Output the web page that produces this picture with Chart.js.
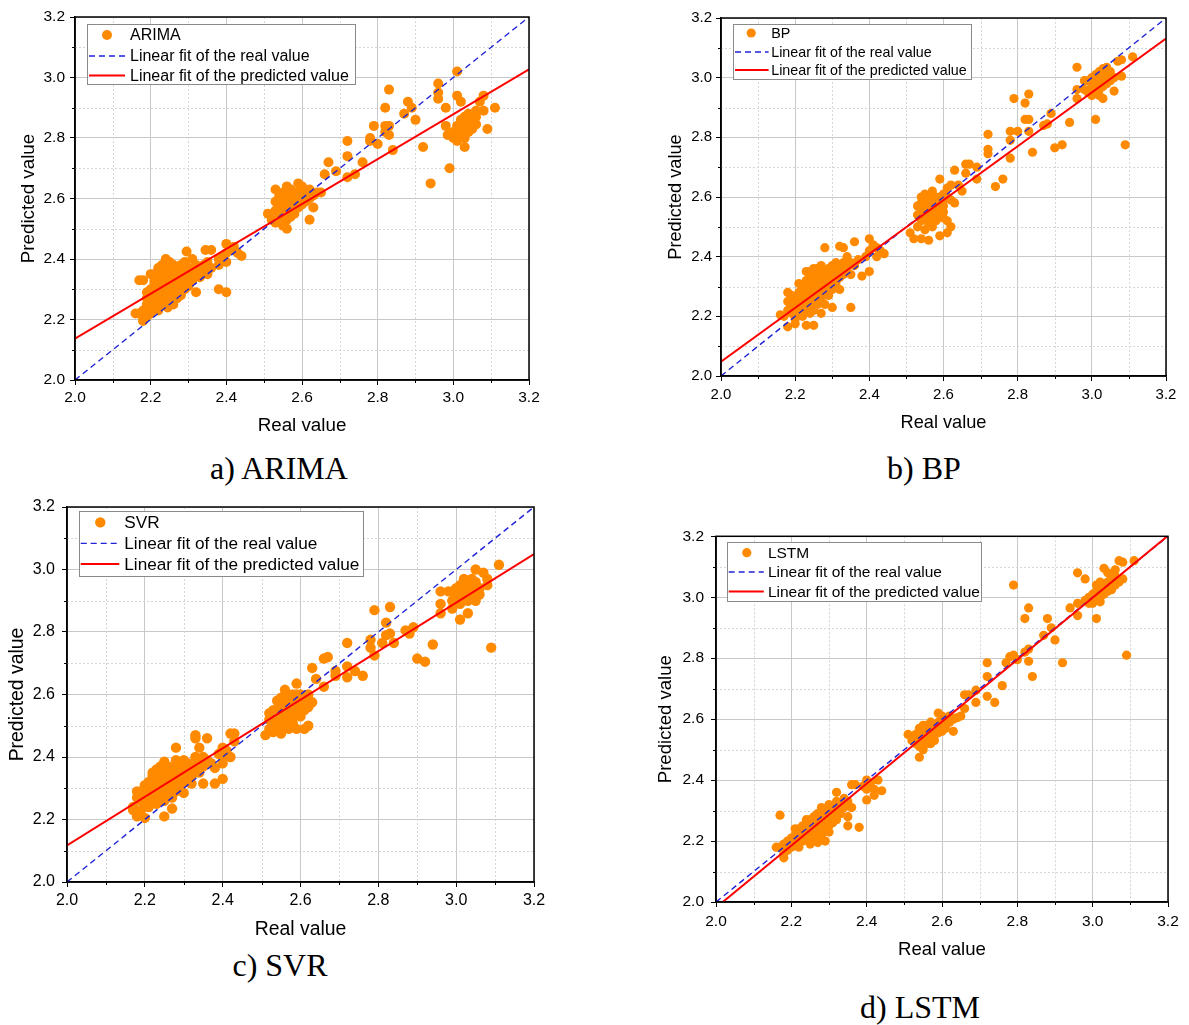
<!DOCTYPE html>
<html>
<head>
<meta charset="utf-8">
<script src="https://cdn.jsdelivr.net/npm/chart.js@4.4.1/dist/chart.umd.min.js"></script>
<style>
  body { margin: 0; background: #fff; width: 1189px; height: 1025px; position: relative; overflow: hidden; }
  .panel { position: absolute; }
  .caption { position: absolute; font-family: 'Times New Roman', 'Liberation Serif', serif; font-size: 32px; color: #000;
             transform: translate(-50%, -50%); white-space: nowrap; }
</style>
</head>
<body>
<div class="panel"><canvas id="ca"></canvas></div>
<div class="panel"><canvas id="cb"></canvas></div>
<div class="panel"><canvas id="cc"></canvas></div>
<div class="panel"><canvas id="cd"></canvas></div>
<div class="caption" style="left:279px;top:468px">a) ARIMA</div>
<div class="caption" style="left:924px;top:468px">b) BP</div>
<div class="caption" style="left:280px;top:965px">c) SVR</div>
<div class="caption" style="left:920px;top:1007px">d) LSTM</div>

<script>
// axis setup
const axisMin = 2.0, axisMax = 3.2;
const majorStep = 0.2;
const minorTicks = [2.1, 2.3, 2.5, 2.7, 2.9, 3.1];
const xTitle = 'Real value';
const yTitle = 'Predicted value';
const legendReal = 'Linear fit of the real value';
const legendPred = 'Linear fit of the predicted value';
const models = ['ARIMA', 'BP', 'SVR', 'LSTM'];

// [real, predicted] pairs
const arimaPoints = [
  [2.16,2.22],[2.17,2.33],[2.18,2.33],[2.18,2.195],[2.17,2.22],[2.18,2.20],[2.18,2.23],[2.19,2.21],[2.19,2.25],[2.19,2.29],
  [2.20,2.22],[2.20,2.26],[2.20,2.30],[2.20,2.35],[2.21,2.24],[2.21,2.28],[2.21,2.32],[2.21,2.35],[2.22,2.23],[2.22,2.27],
  [2.22,2.30],[2.22,2.33],[2.22,2.37],[2.23,2.25],[2.23,2.29],[2.23,2.32],[2.23,2.35],[2.23,2.38],[2.24,2.26],[2.24,2.28],
  [2.24,2.31],[2.24,2.34],[2.24,2.36],[2.24,2.40],[2.245,2.24],[2.25,2.27],[2.25,2.30],[2.25,2.33],[2.25,2.37],[2.25,2.39],
  [2.26,2.25],[2.26,2.29],[2.26,2.32],[2.26,2.35],[2.26,2.38],[2.27,2.27],[2.27,2.30],[2.27,2.34],[2.27,2.37],[2.28,2.28],
  [2.28,2.31],[2.28,2.35],[2.28,2.38],[2.29,2.30],[2.29,2.33],[2.29,2.36],[2.29,2.39],[2.295,2.425],[2.30,2.31],[2.30,2.34],
  [2.30,2.37],[2.31,2.33],[2.31,2.36],[2.31,2.40],[2.32,2.29],[2.32,2.35],[2.32,2.38],[2.33,2.34],[2.33,2.37],[2.34,2.36],
  [2.34,2.38],[2.345,2.43],[2.35,2.35],[2.35,2.39],[2.36,2.37],[2.36,2.43],[2.38,2.30],[2.38,2.38],[2.38,2.40],[2.39,2.41],
  [2.40,2.29],[2.40,2.39],[2.40,2.42],[2.40,2.45],[2.41,2.43],[2.42,2.44],[2.43,2.42],[2.44,2.41],
  [2.19,2.23],[2.20,2.24],[2.20,2.28],[2.21,2.26],[2.21,2.30],[2.22,2.25],[2.22,2.29],[2.22,2.32],[2.23,2.27],[2.23,2.30],
  [2.23,2.33],[2.24,2.29],[2.24,2.33],[2.25,2.28],[2.25,2.31],[2.25,2.35],[2.26,2.27],[2.26,2.31],[2.26,2.34],[2.27,2.29],
  [2.27,2.32],[2.27,2.36],[2.28,2.30],[2.28,2.33],[2.28,2.36],[2.29,2.32],[2.29,2.35],[2.30,2.33],[2.30,2.36],[2.31,2.35],
  [2.32,2.36],[2.24,2.38],[2.21,2.33],[2.19,2.27],
  [2.51,2.55],[2.52,2.53],[2.53,2.52],[2.53,2.56],[2.53,2.59],[2.53,2.63],[2.54,2.54],[2.54,2.57],[2.54,2.61],[2.55,2.51],
  [2.55,2.55],[2.55,2.58],[2.55,2.62],[2.56,2.50],[2.56,2.53],[2.56,2.57],[2.56,2.60],[2.56,2.64],[2.57,2.54],[2.57,2.58],
  [2.57,2.61],[2.57,2.63],[2.58,2.55],[2.58,2.59],[2.58,2.62],[2.59,2.57],[2.59,2.60],[2.59,2.65],[2.60,2.58],[2.60,2.61],
  [2.60,2.64],[2.61,2.59],[2.61,2.62],[2.62,2.53],[2.62,2.60],[2.62,2.63],[2.63,2.57],[2.63,2.61],[2.64,2.62],[2.65,2.62],
  [2.54,2.59],[2.55,2.57],[2.56,2.55],[2.57,2.56],[2.57,2.60],[2.58,2.57],[2.58,2.61],[2.59,2.59],[2.59,2.62],[2.60,2.60],
  [2.61,2.60],[2.60,2.63],
  [2.66,2.68],[2.67,2.72],[2.69,2.69],[2.72,2.67],[2.72,2.74],[2.72,2.79],[2.74,2.68],[2.76,2.72],[2.78,2.79],[2.78,2.80],
  [2.79,2.84],[2.80,2.78],[2.82,2.82],[2.82,2.84],[2.82,2.90],[2.83,2.81],[2.83,2.84],[2.83,2.96],[2.84,2.76],[2.87,2.88],
  [2.88,2.92],[2.89,2.90],[2.90,2.86],[2.92,2.77],[2.94,2.65],[2.96,2.93],[2.96,2.95],[2.96,2.98],[2.98,2.84],[2.98,2.90],
  [2.985,2.81],[2.99,2.70],[2.995,2.81],[3.00,2.80],[3.01,2.79],[3.01,2.94],[3.01,3.02],[3.013,2.82],[3.02,2.83],[3.02,2.92],
  [3.027,2.84],[3.03,2.77],[3.036,2.85],[3.04,2.86],[3.05,2.86],[3.05,2.83],[3.06,2.845],[3.06,2.89],[3.07,2.92],[3.08,2.89],
  [3.08,2.94],[3.09,2.83],[3.11,2.90],[3.03,2.80],[3.04,2.82],
  [3.00,2.82],[3.01,2.84],[3.02,2.81],[3.02,2.86],[3.03,2.83],[3.04,2.84],[3.05,2.85],[3.03,2.87],[3.04,2.88],[3.06,2.87]
];
const bpPoints = [
  [2.16,2.205],[2.17,2.20],[2.18,2.165],[2.18,2.22],[2.18,2.25],[2.18,2.28],[2.19,2.21],[2.19,2.24],[2.19,2.27],[2.20,2.175],
  [2.20,2.19],[2.20,2.23],[2.20,2.26],[2.21,2.22],[2.21,2.25],[2.21,2.28],[2.21,2.31],[2.22,2.20],[2.22,2.24],[2.22,2.27],
  [2.22,2.30],[2.23,2.17],[2.23,2.22],[2.23,2.26],[2.23,2.29],[2.23,2.32],[2.23,2.35],[2.24,2.21],[2.24,2.24],[2.24,2.27],
  [2.24,2.30],[2.24,2.33],[2.25,2.17],[2.25,2.22],[2.25,2.26],[2.25,2.29],[2.25,2.32],[2.25,2.36],[2.26,2.24],[2.26,2.28],
  [2.26,2.31],[2.26,2.34],[2.27,2.21],[2.27,2.26],[2.27,2.30],[2.27,2.33],[2.27,2.37],[2.28,2.24],[2.28,2.28],[2.28,2.32],
  [2.28,2.35],[2.28,2.43],[2.29,2.27],[2.29,2.30],[2.29,2.34],[2.30,2.23],[2.30,2.29],[2.30,2.33],[2.30,2.37],[2.31,2.31],
  [2.31,2.35],[2.31,2.38],[2.32,2.29],[2.32,2.33],[2.32,2.36],[2.32,2.435],[2.33,2.34],[2.33,2.38],[2.33,2.43],[2.34,2.36],
  [2.34,2.40],[2.35,2.23],[2.35,2.34],[2.35,2.38],[2.36,2.37],[2.36,2.45],[2.37,2.39],[2.38,2.335],[2.39,2.40],[2.40,2.35],
  [2.40,2.42],[2.40,2.46],[2.41,2.44],[2.42,2.43],[2.42,2.40],[2.43,2.42],[2.44,2.41],
  [2.19,2.25],[2.20,2.21],[2.20,2.25],[2.21,2.24],[2.21,2.27],[2.22,2.26],[2.22,2.29],[2.23,2.24],[2.23,2.28],[2.23,2.31],
  [2.24,2.26],[2.24,2.29],[2.24,2.32],[2.25,2.28],[2.25,2.31],[2.25,2.34],[2.26,2.26],[2.26,2.30],[2.26,2.33],[2.27,2.28],
  [2.27,2.32],[2.27,2.35],[2.28,2.30],[2.28,2.34],[2.29,2.32],[2.29,2.36],[2.30,2.31],[2.30,2.35],[2.31,2.33],[2.32,2.35],
  [2.26,2.36],[2.24,2.35],
  [2.51,2.48],[2.52,2.46],[2.53,2.50],[2.53,2.54],[2.53,2.57],[2.54,2.46],[2.54,2.52],[2.54,2.56],[2.54,2.60],[2.55,2.49],
  [2.55,2.53],[2.55,2.57],[2.55,2.61],[2.56,2.455],[2.56,2.51],[2.56,2.55],[2.56,2.58],[2.57,2.50],[2.57,2.54],[2.57,2.59],
  [2.57,2.62],[2.58,2.52],[2.58,2.56],[2.58,2.60],[2.59,2.47],[2.59,2.55],[2.59,2.58],[2.59,2.66],[2.60,2.53],[2.60,2.57],
  [2.60,2.61],[2.61,2.48],[2.61,2.52],[2.61,2.60],[2.61,2.63],[2.62,2.50],[2.62,2.59],[2.62,2.64],[2.63,2.58],[2.63,2.69],
  [2.64,2.64],[2.65,2.62],
  [2.54,2.54],[2.55,2.55],[2.55,2.59],[2.56,2.53],[2.56,2.57],[2.57,2.56],[2.57,2.58],[2.58,2.54],[2.58,2.58],[2.59,2.57],
  [2.59,2.60],[2.60,2.55],[2.60,2.59],[2.56,2.60],[2.54,2.58],
  [2.66,2.68],[2.66,2.71],[2.67,2.71],[2.69,2.66],[2.69,2.70],[2.72,2.745],[2.72,2.76],[2.72,2.81],[2.74,2.635],[2.76,2.66],
  [2.78,2.73],[2.78,2.79],[2.78,2.82],[2.79,2.93],[2.80,2.82],[2.82,2.86],[2.82,2.915],[2.83,2.82],[2.83,2.86],[2.83,2.945],
  [2.84,2.75],[2.87,2.84],[2.88,2.845],[2.89,2.88],[2.90,2.765],[2.92,2.775],[2.94,2.85],[2.96,2.93],[2.96,2.96],[2.96,3.035],
  [2.98,2.96],[2.98,2.99],[2.99,2.95],[2.99,2.99],[3.00,2.94],[3.00,2.97],[3.00,3.00],[3.01,2.86],[3.01,2.95],[3.01,2.98],
  [3.01,3.01],[3.02,2.94],[3.02,2.96],[3.02,2.99],[3.02,3.02],[3.03,2.93],[3.03,2.97],[3.03,3.00],[3.03,3.03],[3.04,2.98],
  [3.04,3.01],[3.04,3.035],[3.05,2.99],[3.05,3.02],[3.06,2.955],[3.06,3.00],[3.07,3.055],[3.08,3.005],[3.08,3.06],[3.09,2.775],
  [3.11,3.07],
  [3.00,2.99],[3.01,2.97],[3.02,3.00],[3.03,2.99],[3.04,3.00],[3.05,3.00],[3.01,3.00]
];
const svrPoints = [
  [2.17,2.23],[2.17,2.24],[2.18,2.21],[2.18,2.22],[2.18,2.27],[2.18,2.29],[2.19,2.23],[2.19,2.26],[2.19,2.29],[2.20,2.205],
  [2.20,2.25],[2.20,2.28],[2.20,2.31],[2.21,2.24],[2.21,2.27],[2.21,2.30],[2.22,2.26],[2.22,2.29],[2.22,2.32],[2.22,2.35],
  [2.23,2.25],[2.23,2.28],[2.23,2.31],[2.23,2.34],[2.24,2.27],[2.24,2.30],[2.24,2.33],[2.24,2.37],[2.25,2.21],[2.25,2.26],
  [2.25,2.29],[2.25,2.32],[2.25,2.35],[2.25,2.385],[2.26,2.28],[2.26,2.31],[2.26,2.34],[2.26,2.37],[2.27,2.235],[2.27,2.27],
  [2.27,2.30],[2.27,2.33],[2.27,2.36],[2.28,2.29],[2.28,2.32],[2.28,2.35],[2.28,2.39],[2.28,2.43],[2.29,2.31],[2.29,2.34],
  [2.29,2.37],[2.30,2.285],[2.30,2.33],[2.30,2.36],[2.30,2.39],[2.31,2.32],[2.31,2.35],[2.31,2.38],[2.32,2.315],[2.32,2.34],
  [2.32,2.37],[2.33,2.36],[2.33,2.40],[2.33,2.46],[2.33,2.47],[2.34,2.35],[2.34,2.38],[2.34,2.43],[2.35,2.315],[2.35,2.37],
  [2.35,2.40],[2.36,2.39],[2.36,2.46],[2.37,2.38],[2.38,2.315],[2.38,2.365],[2.39,2.41],[2.40,2.33],[2.40,2.38],[2.40,2.40],
  [2.40,2.43],[2.41,2.42],[2.42,2.40],[2.42,2.475],[2.43,2.475],[2.43,2.45],
  [2.19,2.28],[2.20,2.27],[2.20,2.30],[2.21,2.29],[2.21,2.32],[2.22,2.28],[2.22,2.31],[2.23,2.30],[2.23,2.33],[2.23,2.36],
  [2.24,2.29],[2.24,2.32],[2.24,2.35],[2.25,2.31],[2.25,2.34],[2.26,2.30],[2.26,2.33],[2.26,2.36],[2.27,2.32],[2.27,2.35],
  [2.28,2.31],[2.28,2.34],[2.28,2.37],[2.29,2.33],[2.29,2.36],[2.30,2.35],[2.30,2.38],[2.31,2.37],[2.32,2.36],[2.22,2.34],
  [2.51,2.47],[2.52,2.49],[2.52,2.52],[2.52,2.54],[2.53,2.48],[2.53,2.51],[2.53,2.55],[2.54,2.50],[2.54,2.53],[2.54,2.58],
  [2.55,2.475],[2.55,2.52],[2.55,2.55],[2.55,2.59],[2.56,2.50],[2.56,2.54],[2.56,2.57],[2.56,2.615],[2.57,2.49],[2.57,2.52],
  [2.57,2.55],[2.57,2.58],[2.58,2.51],[2.58,2.53],[2.58,2.56],[2.58,2.60],[2.59,2.49],[2.59,2.55],[2.59,2.58],[2.59,2.635],
  [2.60,2.53],[2.60,2.57],[2.60,2.60],[2.61,2.49],[2.61,2.55],[2.61,2.59],[2.62,2.50],[2.62,2.56],[2.62,2.60],[2.63,2.575],
  [2.63,2.685],
  [2.54,2.55],[2.55,2.54],[2.55,2.57],[2.56,2.56],[2.56,2.59],[2.57,2.54],[2.57,2.57],[2.58,2.55],[2.58,2.58],[2.59,2.57],
  [2.59,2.60],[2.60,2.58],[2.53,2.53],[2.56,2.52],
  [2.64,2.65],[2.66,2.625],[2.66,2.715],[2.67,2.72],[2.69,2.66],[2.69,2.675],[2.72,2.655],[2.72,2.69],[2.72,2.765],[2.74,2.675],
  [2.76,2.66],[2.78,2.75],[2.78,2.775],[2.79,2.725],[2.79,2.87],[2.81,2.765],[2.82,2.79],[2.82,2.83],[2.83,2.795],[2.83,2.88],
  [2.84,2.765],[2.87,2.805],[2.88,2.795],[2.89,2.815],[2.90,2.715],[2.92,2.705],[2.94,2.76],[2.96,2.86],[2.96,2.89],[2.96,2.93],
  [2.98,2.93],[2.99,2.875],[2.99,2.90],[2.99,2.93],[3.00,2.91],[3.00,2.94],[3.01,2.84],[3.01,2.89],[3.01,2.92],[3.01,2.95],
  [3.02,2.91],[3.02,2.94],[3.02,2.96],[3.03,2.86],[3.03,2.90],[3.03,2.93],[3.03,2.96],[3.04,2.92],[3.04,2.95],[3.04,2.97],
  [3.05,2.90],[3.05,2.93],[3.05,2.96],[3.05,3.00],[3.06,2.92],[3.06,2.94],[3.07,2.99],[3.08,2.95],[3.08,2.97],[3.09,2.75],
  [3.11,3.015],
  [3.00,2.92],[3.02,2.93],[3.03,2.95],[3.04,2.94],[3.05,2.95],[3.02,2.97]
];
const lstmPoints = [
  [2.16,2.18],[2.17,2.285],[2.17,2.18],[2.18,2.145],[2.18,2.16],[2.18,2.19],[2.19,2.17],[2.19,2.20],[2.20,2.18],[2.20,2.21],
  [2.21,2.19],[2.21,2.22],[2.21,2.24],[2.22,2.18],[2.22,2.21],[2.22,2.23],[2.23,2.20],[2.23,2.22],[2.23,2.25],[2.24,2.21],
  [2.24,2.23],[2.24,2.26],[2.25,2.19],[2.25,2.22],[2.25,2.24],[2.25,2.27],[2.26,2.21],[2.26,2.23],[2.26,2.26],[2.26,2.28],
  [2.27,2.195],[2.27,2.24],[2.27,2.27],[2.27,2.29],[2.28,2.22],[2.28,2.25],[2.28,2.28],[2.28,2.31],[2.29,2.20],[2.29,2.24],
  [2.29,2.27],[2.29,2.30],[2.30,2.23],[2.30,2.26],[2.30,2.29],[2.30,2.32],[2.31,2.28],[2.31,2.31],[2.32,2.27],[2.32,2.30],
  [2.32,2.33],[2.32,2.36],[2.33,2.29],[2.33,2.32],[2.34,2.31],[2.34,2.34],[2.35,2.25],[2.35,2.28],[2.35,2.33],[2.36,2.31],
  [2.36,2.385],[2.37,2.385],[2.38,2.245],[2.39,2.38],[2.40,2.335],[2.40,2.37],[2.40,2.40],[2.41,2.39],[2.42,2.37],[2.42,2.35],
  [2.43,2.40],[2.44,2.365],
  [2.19,2.19],[2.20,2.20],[2.21,2.20],[2.21,2.21],[2.22,2.22],[2.22,2.24],[2.23,2.21],[2.23,2.24],[2.24,2.22],[2.24,2.25],
  [2.25,2.23],[2.25,2.26],[2.26,2.24],[2.26,2.27],[2.27,2.23],[2.27,2.26],[2.28,2.24],[2.28,2.27],[2.28,2.29],[2.29,2.26],
  [2.29,2.28],[2.30,2.25],[2.30,2.28],[2.31,2.26],[2.31,2.30],[2.32,2.29],[2.33,2.31],[2.25,2.25],[2.24,2.27],
  [2.51,2.55],[2.52,2.53],[2.53,2.52],[2.53,2.55],[2.54,2.475],[2.54,2.51],[2.54,2.54],[2.54,2.57],[2.55,2.50],[2.55,2.53],
  [2.55,2.56],[2.55,2.58],[2.56,2.52],[2.56,2.55],[2.56,2.58],[2.57,2.52],[2.57,2.56],[2.57,2.59],[2.58,2.53],[2.58,2.55],
  [2.58,2.58],[2.59,2.555],[2.59,2.59],[2.59,2.62],[2.60,2.56],[2.60,2.58],[2.60,2.61],[2.61,2.57],[2.61,2.60],[2.62,2.59],
  [2.62,2.61],[2.63,2.56],[2.63,2.60],[2.64,2.605],[2.65,2.61],
  [2.55,2.55],[2.56,2.54],[2.56,2.57],[2.57,2.55],[2.57,2.58],[2.58,2.56],[2.58,2.57],[2.59,2.58],[2.60,2.59],[2.61,2.59],
  [2.53,2.54],[2.54,2.53],
  [2.66,2.635],[2.66,2.68],[2.67,2.68],[2.69,2.655],[2.69,2.695],[2.72,2.675],[2.72,2.74],[2.72,2.785],[2.74,2.655],[2.76,2.71],
  [2.77,2.785],[2.78,2.805],[2.79,2.81],[2.79,3.04],[2.80,2.795],[2.82,2.82],[2.82,2.93],[2.83,2.79],[2.83,2.83],[2.83,2.965],
  [2.84,2.74],[2.87,2.875],[2.88,2.93],[2.89,2.90],[2.90,2.86],[2.92,2.785],[2.94,2.965],[2.96,2.94],[2.96,2.98],[2.96,3.08],
  [2.98,2.99],[2.98,3.06],[2.99,2.98],[2.99,3.00],[3.00,2.98],[3.00,3.01],[3.01,2.93],[3.01,2.99],[3.01,3.02],[3.01,3.04],
  [3.02,2.985],[3.02,3.00],[3.02,3.03],[3.03,3.01],[3.03,3.04],[3.03,3.095],[3.04,3.02],[3.04,3.05],[3.04,3.08],[3.05,3.025],
  [3.05,3.06],[3.06,3.04],[3.06,3.07],[3.06,3.09],[3.07,3.05],[3.07,3.12],[3.08,3.06],[3.08,3.115],[3.09,2.81],[3.11,3.12],
  [3.01,3.00],[3.02,3.02],[3.03,3.03],[3.04,3.04],[3.05,3.04],[3.02,3.05]
];

// end points of the two fitted lines
const realFit = [[2.0, 2.0], [3.2, 3.2]];
const arimaFit = [[2.0, 2.137], [3.2, 3.027]];
const bpFit = [[2.0, 2.048], [3.2, 3.131]];
const svrFit = [[2.0, 2.117], [3.2, 3.049]];
const lstmFit = [[2.018, 2.0], [3.2, 3.202]];

const sansFont = "Arial, 'Liberation Sans', sans-serif";
const orange = '#ff8a00';
const blue = '#1f22d8';
const red = '#ff0000';
const gridColor = '#c8c8c8';
const minorGridColor = '#d6d6d6';

// panel placement on the page (box = canvas, area = plot frame)
const panels = [
  { canvas: 'ca', name: models[0], points: arimaPoints, fit: arimaFit,
    box: {left: 0, top: 0, w: 560, h: 445}, area: {l: 75, t: 17, r: 529, b: 380},
    yTitleX: 28.4, xTitleY: 425.5, tickSize: 15.5, titleSize: 18.8, yPad: 5, xPad: 3, radius: 5,
    legend: {dx: 12, dy: 7, w: 268, h: 60, rows: [11, 32, 51.5], size: 16, lineX: [2, 38], dotX: 20, textX: 43} },
  { canvas: 'cb', name: models[1], points: bpPoints, fit: bpFit,
    box: {left: 640, top: 0, w: 549, h: 440}, area: {l: 721, t: 18, r: 1166, b: 376},
    yTitleX: 676, xTitleY: 422.5, tickSize: 15, titleSize: 18.2, yPad: 4, xPad: 5, radius: 4.6,
    legend: {dx: 12.4, dy: 6, w: 238, h: 55, rows: [9, 28, 46], size: 14.3, lineX: [2, 35.6], dotX: 18.2, textX: 38.2} },
  { canvas: 'cc', name: models[2], points: svrPoints, fit: svrFit,
    box: {left: 0, top: 490, w: 560, h: 450}, area: {l: 67, t: 507, r: 534, b: 882},
    yTitleX: 17.3, xTitleY: 930, tickSize: 16, titleSize: 19.4, yPad: 7, xPad: 4, radius: 5.2,
    legend: {dx: 11.7, dy: 3.6, w: 284, h: 65, rows: [11.4, 32.4, 53.1], size: 17.2, lineX: [1.7, 40.3], dotX: 21.3, textX: 45.3} },
  { canvas: 'cd', name: models[3], points: lstmPoints, fit: lstmFit,
    box: {left: 640, top: 520, w: 549, h: 450}, area: {l: 716, t: 536, r: 1168, b: 902},
    yTitleX: 666, xTitleY: 950, tickSize: 15.5, titleSize: 18.6, yPad: 7, xPad: 5, radius: 4.6,
    legend: {dx: 10.8, dy: 5.6, w: 254, h: 59, rows: [10.7, 30, 49.4], size: 15.5, lineX: [1.7, 36.8], dotX: 19.8, textX: 40.9} }
];

// minor dotted grid, box frame, minor ticks and the in-plot legend
const frameLegend = {
  id: 'frameLegend',
  beforeDatasetsDraw(chart) {
    const {ctx, chartArea: a, scales: {x, y}} = chart;
    ctx.save();
    ctx.strokeStyle = minorGridColor;
    ctx.lineWidth = 1;
    ctx.setLineDash([2, 2]);
    ctx.beginPath();
    minorTicks.forEach(v => {
      const px = Math.round(x.getPixelForValue(v)) + 0.5;
      const py = Math.round(y.getPixelForValue(v)) + 0.5;
      ctx.moveTo(px, a.top); ctx.lineTo(px, a.bottom);
      ctx.moveTo(a.left, py); ctx.lineTo(a.right, py);
    });
    ctx.stroke();
    ctx.restore();
  },
  afterDatasetsDraw(chart, args, opts) {
    const {ctx, chartArea: a, scales: {x, y}} = chart;
    ctx.save();
    ctx.strokeStyle = '#000';
    ctx.lineWidth = 1.5;
    ctx.strokeRect(a.left, a.top, a.right - a.left, a.bottom - a.top);
    ctx.lineWidth = 1;
    ctx.beginPath();
    minorTicks.forEach(v => {
      const px = Math.round(x.getPixelForValue(v)) + 0.5;
      const py = Math.round(y.getPixelForValue(v)) + 0.5;
      ctx.moveTo(px, a.bottom); ctx.lineTo(px, a.bottom + 3);
      ctx.moveTo(a.left, py); ctx.lineTo(a.left - 3, py);
    });
    ctx.stroke();

    const L = opts.legend;
    const bx = Math.round(a.left + L.dx), by = Math.round(a.top + L.dy);
    ctx.fillStyle = '#fff';
    ctx.fillRect(bx, by, L.w, L.h);
    ctx.strokeStyle = '#8a8a8a';
    ctx.strokeRect(bx + 0.5, by + 0.5, L.w, L.h);

    ctx.fillStyle = orange;
    ctx.beginPath();
    ctx.arc(bx + L.dotX, by + L.rows[0], opts.radius, 0, Math.PI * 2);
    ctx.fill();

    ctx.strokeStyle = blue;
    ctx.lineWidth = 1.4;
    ctx.setLineDash([6, 4]);
    ctx.beginPath();
    ctx.moveTo(bx + L.lineX[0], by + L.rows[1]); ctx.lineTo(bx + L.lineX[1], by + L.rows[1]);
    ctx.stroke();

    ctx.setLineDash([]);
    ctx.strokeStyle = red;
    ctx.lineWidth = 2;
    ctx.beginPath();
    ctx.moveTo(bx + L.lineX[0], by + L.rows[2]); ctx.lineTo(bx + L.lineX[1], by + L.rows[2]);
    ctx.stroke();

    ctx.fillStyle = '#000';
    ctx.font = L.size + 'px ' + sansFont;
    ctx.textAlign = 'left';
    ctx.textBaseline = 'middle';
    [opts.name, legendReal, legendPred].forEach((t, i) => ctx.fillText(t, bx + L.textX, by + L.rows[i] + 1));
    ctx.restore();
  }
};

function toXY(list) {
  return list.map(p => ({x: p[0], y: p[1]}));
}

function makeChart(p) {
  const el = document.getElementById(p.canvas);
  Object.assign(el.parentNode.style, {
    left: p.box.left + 'px', top: p.box.top + 'px', width: p.box.w + 'px', height: p.box.h + 'px'
  });
  const tickFont = {family: sansFont, size: p.tickSize};
  const titleFont = {family: sansFont, size: p.titleSize};
  const half = p.titleSize * 1.2 / 2;

  return new Chart(el, {
    type: 'scatter',
    data: {
      datasets: [
        { label: legendPred, data: toXY(p.fit), showLine: true, borderColor: red, borderWidth: 2,
          pointRadius: 0, order: 0 },
        { label: legendReal, data: toXY(realFit), showLine: true, borderColor: blue, borderWidth: 1.4,
          borderDash: [6, 4], pointRadius: 0, order: 1 },
        { label: p.name, data: toXY(p.points), backgroundColor: orange, borderWidth: 0,
          pointRadius: p.radius, pointHoverRadius: p.radius, order: 2 }
      ]
    },
    options: {
      responsive: true,
      maintainAspectRatio: false,
      animation: false,
      events: [],
      layout: { padding: { left: 0, bottom: 0, top: p.area.t - p.box.top, right: p.box.left + p.box.w - p.area.r } },
      plugins: {
        legend: { display: false },
        tooltip: { enabled: false },
        frameLegend: { legend: p.legend, name: p.name, radius: p.radius }
      },
      scales: {
        x: {
          type: 'linear', min: axisMin, max: axisMax,
          ticks: { stepSize: majorStep, font: tickFont, color: '#000', padding: p.xPad, maxRotation: 0,
                   autoSkip: false, callback: v => v.toFixed(1) },
          grid: { color: gridColor, lineWidth: 1, tickColor: '#000', tickLength: 5 },
          border: { color: '#000', width: 1.5 },
          title: { display: true, text: xTitle, font: titleFont, color: '#000',
                   padding: { top: 0, bottom: p.box.top + p.box.h - p.xTitleY - half } },
          afterFit: s => { s.height = p.box.top + p.box.h - p.area.b; }
        },
        y: {
          type: 'linear', min: axisMin, max: axisMax,
          ticks: { stepSize: majorStep, font: tickFont, color: '#000', padding: p.yPad,
                   callback: v => v.toFixed(1) },
          grid: { color: gridColor, lineWidth: 1, tickColor: '#000', tickLength: 5 },
          border: { color: '#000', width: 1.5 },
          title: { display: true, text: yTitle, font: titleFont, color: '#000',
                   padding: { top: p.yTitleX - p.box.left - half, bottom: 0 } },
          afterFit: s => { s.width = p.area.l - p.box.left; }
        }
      }
    },
    plugins: [frameLegend]
  });
}

panels.forEach(makeChart);
</script>
</body>
</html>
